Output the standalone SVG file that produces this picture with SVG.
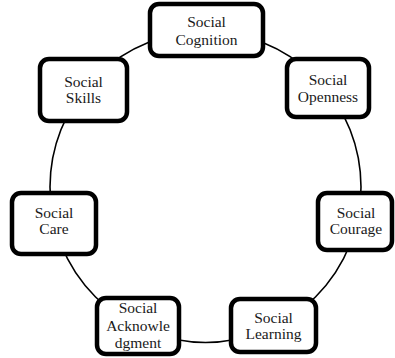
<svg xmlns="http://www.w3.org/2000/svg" width="395" height="358" viewBox="0 0 395 358">
<style>
.box{fill:#fff;stroke:#000;stroke-width:4.5}
.lbl{font-family:"Liberation Serif","Times New Roman",serif;font-size:15.5px;fill:#1a1a1a;text-anchor:middle}
.ring{fill:none;stroke:#000;stroke-width:1.6}
</style>
<rect width="395" height="358" fill="#fff"/>
<g id="connectors">
<circle class="ring" cx="205.5" cy="187" r="155.5"/>
</g>
<g id="cognition">
<rect class="box" x="150" y="4" width="113" height="52" rx="9"/>
<text class="lbl" x="206.5" y="27">Social</text>
<text class="lbl" x="206.5" y="45">Cognition</text>
</g>
<g id="openness">
<rect class="box" x="287" y="59" width="82" height="58" rx="9"/>
<text class="lbl" x="328" y="85">Social</text>
<text class="lbl" x="328" y="102">Openness</text>
</g>
<g id="skills">
<rect class="box" x="40" y="59" width="87" height="62" rx="9"/>
<text class="lbl" x="83.5" y="87">Social</text>
<text class="lbl" x="83.5" y="103">Skills</text>
</g>
<g id="care">
<rect class="box" x="12" y="193" width="84" height="61" rx="9"/>
<text class="lbl" x="54" y="218">Social</text>
<text class="lbl" x="54" y="234">Care</text>
</g>
<g id="courage">
<rect class="box" x="318" y="193" width="74" height="57" rx="9"/>
<text class="lbl" x="356" y="218">Social</text>
<text class="lbl" x="356" y="234">Courage</text>
</g>
<g id="acknowledgment">
<rect class="box" x="97" y="298" width="82" height="56" rx="9"/>
<text class="lbl" x="138" y="313">Social</text>
<text class="lbl" x="138" y="331">Acknowle</text>
<text class="lbl" x="138" y="348">dgment</text>
</g>
<g id="learning">
<rect class="box" x="231" y="299" width="85" height="53" rx="9"/>
<text class="lbl" x="273.5" y="323">Social</text>
<text class="lbl" x="273.5" y="339">Learning</text>
</g>
</svg>
